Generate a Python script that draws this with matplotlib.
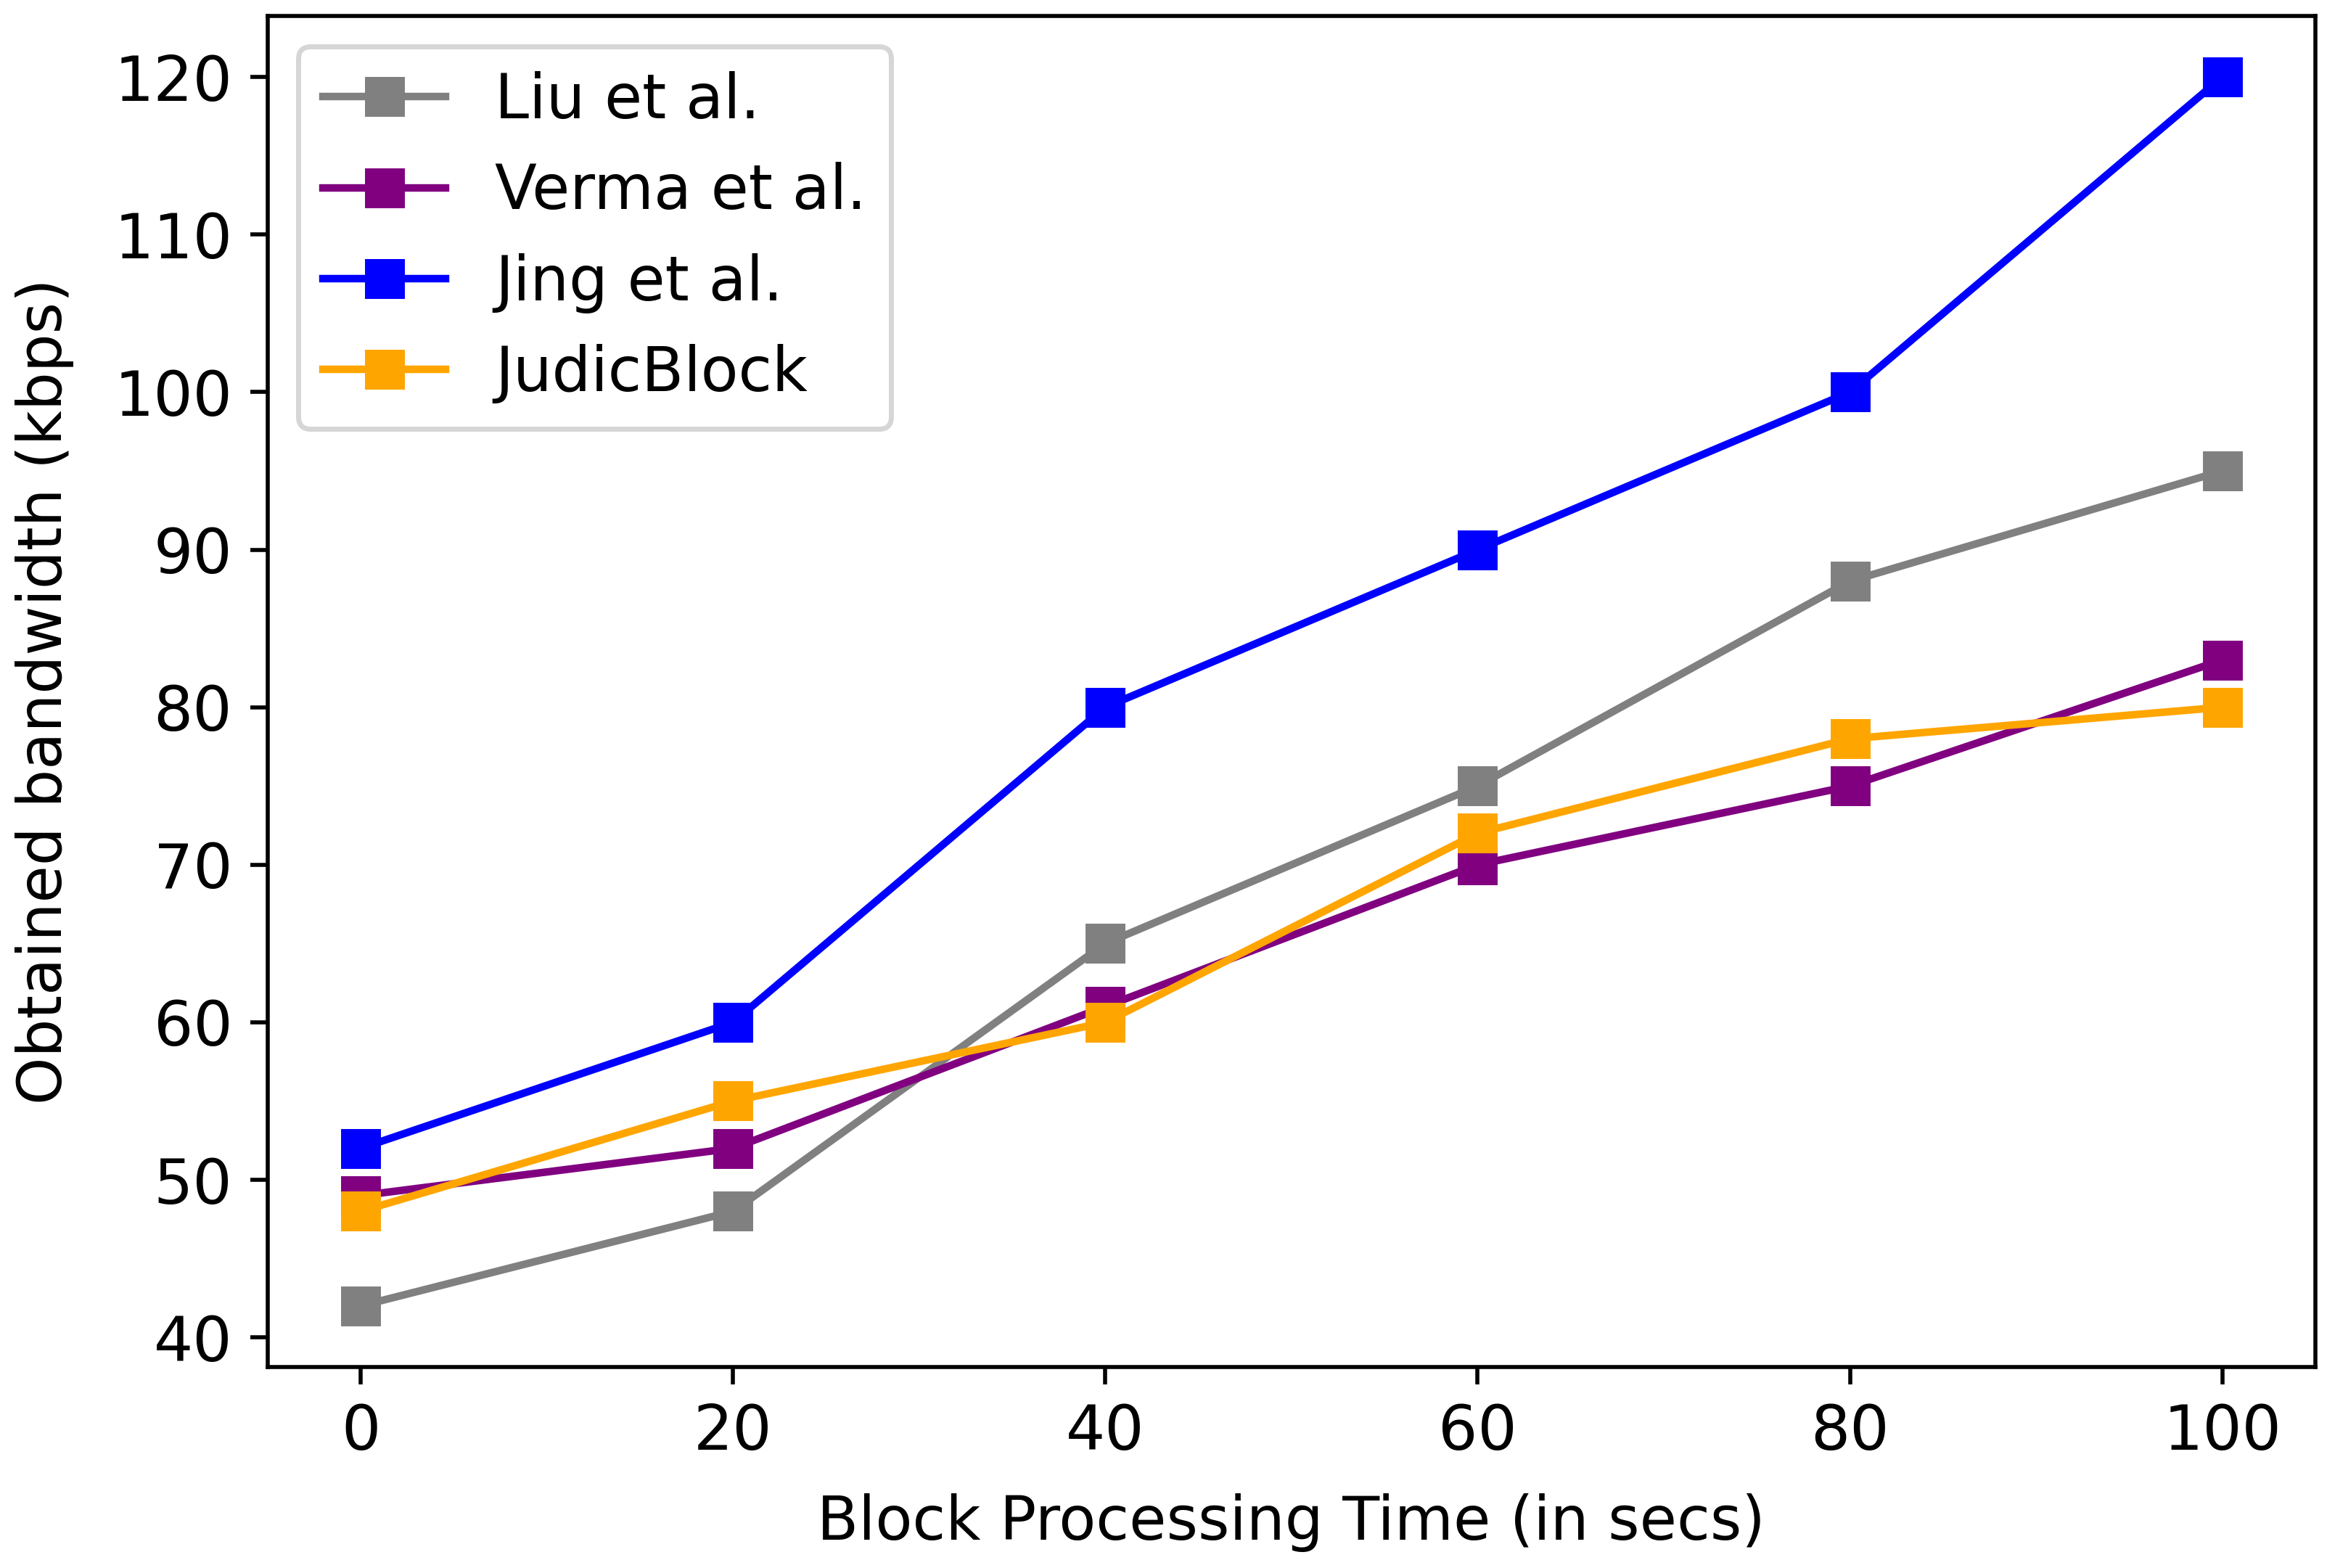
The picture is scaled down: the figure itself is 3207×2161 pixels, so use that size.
import matplotlib.pyplot as plt

tempo = [0, 20, 40, 60, 80, 100]
liu = [42, 48, 65, 75, 88, 95]
verma = [49, 52, 61, 70, 75, 83]
jing = [52, 60, 80, 90, 100, 120]
judic = [48, 55, 60, 72, 78, 80]

fig, ax = plt.subplots(figsize=(6.414, 4.322))
ax.plot(tempo, liu, marker="s", color="gray", label="Liu et al.", linewidth=1.5, markersize=7)
ax.plot(tempo, verma, marker="s", color="purple", label="Verma et al.", linewidth=1.5, markersize=7)
ax.plot(tempo, jing, marker="s", color="blue", label="Jing et al.", linewidth=1.5, markersize=7)
ax.plot(tempo, judic, marker="s", color="orange", label="JudicBlock", linewidth=1.5, markersize=7)

ax.set_xlabel("Block Processing Time (in secs)", fontsize=12, labelpad=6)
ax.set_ylabel("Obtained bandwidth (kbps)", fontsize=12, labelpad=8)
ax.tick_params(labelsize=12.3)
ax.legend(fontsize=12.2, loc="upper left")

plt.subplots_adjust(left=0.115, right=0.995, top=0.99, bottom=0.128)
plt.savefig("out.png", dpi=500)
